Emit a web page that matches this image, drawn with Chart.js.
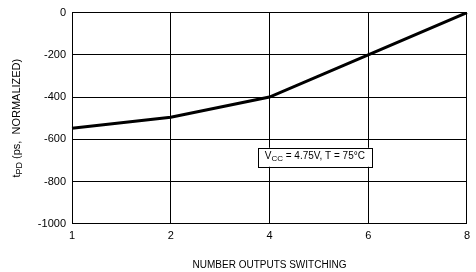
<!DOCTYPE html>
<html>
<head>
<meta charset="utf-8">
<script src="https://cdn.jsdelivr.net/npm/chart.js@4"></script>
<style>
  html, body { margin: 0; padding: 0; background: #fff; }
  #wrap { width: 476px; height: 272px; }
</style>
</head>
<body>
<div id="wrap"><canvas id="chart"></canvas></div>
<script>
const outputs = ['1', '2', '4', '6', '8'];
const tpdValues = [-548, -495, -400, -200, 0];
const yTicks = [-1000, -800, -600, -400, -200, 0];

const FONT = '"Liberation Sans", Arial, sans-serif';

// draws text with a subscript part: [[text, isSub], ...]
function drawParts(ctx, parts, x, y, size) {
  let cx = x;
  parts.forEach(([t, sub]) => {
    ctx.font = (sub ? size - 2 : size) + 'px ' + FONT;
    ctx.fillText(t, cx, sub ? y + 3 : y);
    cx += ctx.measureText(t).width;
  });
  return cx - x;
}
function partsWidth(ctx, parts, size) {
  let w = 0;
  parts.forEach(([t, sub]) => {
    ctx.font = (sub ? size - 2 : size) + 'px ' + FONT;
    w += ctx.measureText(t).width;
  });
  return w;
}

const extras = {
  id: 'extras',
  afterDraw(chart) {
    const ctx = chart.ctx, x = chart.scales.x, y = chart.scales.y, area = chart.chartArea;
    ctx.save();
    ctx.fillStyle = '#000';
    ctx.textBaseline = 'middle';

    // y axis title, rotated
    const title = [['t', false], ['PD', true], [' (ps,  NORMALIZED)', false]];
    ctx.save();
    ctx.translate(17, (area.top + area.bottom) / 2);
    ctx.rotate(-Math.PI / 2);
    const tw = partsWidth(ctx, title, 11);
    drawParts(ctx, title, -tw / 2, 0, 11);
    ctx.restore();

    // condition box
    const label = [['V', false], ['CC', true], [' = 4.75V, T = 75°C', false]];
    const lw = partsWidth(ctx, label, 10);
    const cx = (x.getPixelForValue(2) + x.getPixelForValue(3)) / 2 - 4;
    const cy = y.getPixelForValue(-685);
    const bw = lw + 14, bh = 19;
    ctx.fillStyle = '#fff';
    ctx.fillRect(cx - bw / 2, cy - bh / 2, bw, bh);
    ctx.strokeStyle = '#000';
    ctx.lineWidth = 1;
    ctx.strokeRect(Math.round(cx - bw / 2) + 0.5, Math.round(cy - bh / 2) + 0.5, Math.round(bw), bh);
    ctx.fillStyle = '#000';
    drawParts(ctx, label, cx - lw / 2, cy - 1, 10);
    ctx.restore();
  }
};

new Chart(document.getElementById('chart'), {
  type: 'line',
  data: {
    labels: outputs,
    datasets: [{
      data: tpdValues,
      borderColor: '#000',
      borderWidth: 3,
      pointRadius: 0,
      tension: 0,
      fill: false
    }]
  },
  options: {
    responsive: true, maintainAspectRatio: false,
    animation: false,
    layout: { padding: { top: -2, right: 6, left: 0, bottom: 1 } },
    plugins: { legend: { display: false }, tooltip: { enabled: false } },
    scales: {
      x: {
        offset: false,
        grid: { color: '#000', lineWidth: 1, drawTicks: false },
        border: { color: '#000', width: 1 },
        ticks: { color: '#000', padding: 6, maxRotation: 0, font: { family: FONT, size: 11 } },
        title: {
          display: true, text: 'NUMBER OUTPUTS SWITCHING', color: '#000',
          font: { family: FONT, size: 10 }, padding: { top: 10, bottom: 0 }
        }
      },
      y: {
        min: -1000, max: 0,
        afterBuildTicks: (s) => { s.ticks = yTicks.map(v => ({ value: v })); },
        afterFit: (s) => { s.width = 72; },
        grid: { color: '#000', lineWidth: 1, drawTicks: false },
        border: { color: '#000', width: 1 },
        ticks: {
          color: '#000', padding: 6, font: { family: FONT, size: 11 },
          callback: (v) => String(v)
        }
      }
    }
  },
  plugins: [extras]
});
</script>
</body>
</html>
